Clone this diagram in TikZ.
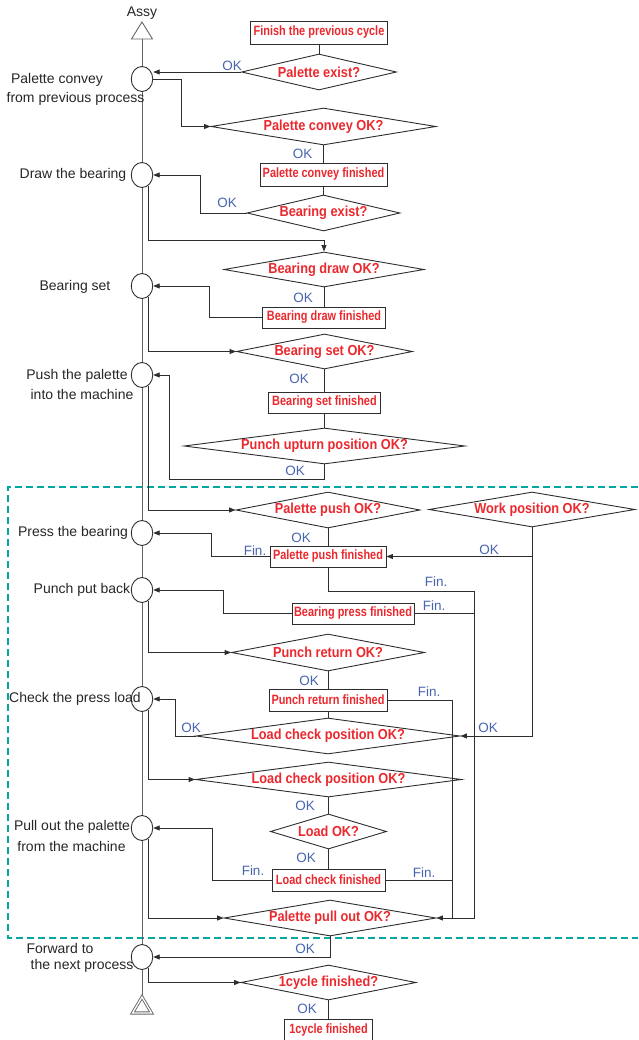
\documentclass[tikz,border=0pt]{standalone}
\usepackage{fontspec}
\setmainfont{Liberation Sans}
\newfontfamily\boxfont[FakeStretch=0.81]{Liberation Sans}
\newfontfamily\decfont[FakeStretch=0.88]{Liberation Sans}
\usepackage{tikz}
\usetikzlibrary{shapes.geometric, arrows.meta, positioning, calc}
\definecolor{qred}{RGB}{235,40,45}
\definecolor{okblue}{RGB}{70,100,175}
\definecolor{zoneteal}{RGB}{0,168,160}
\definecolor{linegray}{RGB}{45,45,45}
\tikzset{
  procbox/.style 2 args={
    rectangle, draw=linegray, line width=0.9pt, inner sep=0pt,
    minimum width=#1pt, minimum height=#2pt,
    font=\boxfont\bfseries\fontsize{13.5}{15}\selectfont, text=qred
  },
  decision/.style 2 args={
    diamond, draw=linegray, line width=0.9pt, inner sep=0pt,
    minimum width=#1pt, minimum height=#2pt,
    /utils/exec={\pgfmathsetmacro\decaspect{#1/#2}}, aspect=\decaspect,
    font=\decfont\bfseries\fontsize{14.5}{16}\selectfont, text=qred
  },
  stepcirc/.style={
    ellipse, draw=linegray, line width=0.9pt, inner sep=0pt,
    minimum width=21.5pt, minimum height=25pt
  },
  steplabel/.style={
    font=\fontsize{14}{16}\selectfont, text=black!85, inner sep=0pt
  },
  oklabel/.style={
    font=\fontsize{13.5}{15}\selectfont, text=okblue, inner sep=0pt
  },
  mainline/.style={line width=0.9pt, draw=black!60},
  flowline/.style={line width=0.9pt, draw=linegray},
  flowarrow/.style={flowline, -{Triangle[length=6.5pt,width=5pt]}},
  zoneline/.style={line width=2pt, draw=zoneteal, dash pattern=on 7pt off 4pt},
}

\begin{document}
\begin{tikzpicture}[x=1pt, y=-1pt]
  \useasboundingbox (0,0) rectangle (638,1040);

  % === Cell zone ===
  \draw[zoneline] (638,487) -- (8,487) -- (8,938) -- (638,938);

  % === Main line ===
  \node[steplabel] (assy) at (142,13) {Assy};
  \draw[mainline] (131.5,39) -- (142,22) -- (152.5,39) -- cycle;
  \coordinate (assyBase) at (142,39);
  \draw[mainline, double, double distance=1.3pt] (132.5,1013) -- (142,997) -- (151.5,1013) -- cycle;
  \coordinate (endApex) at (142,996);

  \node[stepcirc] (c1) at (142,79) {};
  \node[stepcirc] (c2) at (142,175) {};
  \node[stepcirc] (c3) at (142,286) {};
  \node[stepcirc] (c4) at (142,375) {};
  \node[stepcirc] (c5) at (142,533) {};
  \node[stepcirc] (c6) at (142,590) {};
  \node[stepcirc] (c7) at (142,699) {};
  \node[stepcirc] (c8) at (142,828) {};
  \node[stepcirc] (c9) at (142,957) {};

  \draw[mainline] (assyBase) -- (c1.north);
  \foreach \a/\b in {c1/c2, c2/c3, c3/c4, c4/c5, c5/c6, c6/c7, c7/c8, c8/c9}
    \draw[mainline] (\a.south) -- (\b.north);
  \draw[mainline] (c9.south) -- (endApex);

  % === Step labels ===
  \node[steplabel] (l1a) at (57,80) {Palette convey};
  \node[steplabel] (l1b) at (75.5,99) {from previous process};
  \node[steplabel] (l2) at (73,175) {Draw the bearing};
  \node[steplabel] (l3) at (75,287) {Bearing set};
  \node[steplabel] (l4a) at (77,376) {Push the palette};
  \node[steplabel] (l4b) at (82,394) {into the machine};
  \node[steplabel] (l5) at (73,533) {Press the bearing};
  \node[steplabel] (l6) at (82,590) {Punch put back};
  \node[steplabel] (l7) at (75,699) {Check the press load};
  \node[steplabel] (l8a) at (72,827) {Pull out the palette};
  \node[steplabel] (l8b) at (71.5,846) {from the machine};
  \node[steplabel] (l9a) at (60,948) {Forward to};
  \node[steplabel] (l9b) at (82,966) {the next process};

  % === Checks and results ===
  \node[procbox={137}{23}] (bPrev) at (319,32.5) {Finish the previous cycle};
  \node[decision={155}{36}] (dExist) at (319,72) {Palette exist?};
  \node[decision={225}{37}] (dConvey) at (323.5,126.5) {Palette convey OK?};
  \node[procbox={127}{23}] (bConvey) at (323.5,174.5) {Palette convey finished};
  \node[decision={153}{36}] (dBrgExist) at (323.5,213) {Bearing exist?};
  \node[decision={200}{35}] (dDraw) at (324,269.5) {Bearing draw OK?};
  \node[procbox={123}{21}] (bDraw) at (324,317.5) {Bearing draw finished};
  \node[decision={176}{35}] (dSet) at (324.5,351.5) {Bearing set OK?};
  \node[procbox={112}{21}] (bSet) at (324.5,402.5) {Bearing set finished};
  \node[decision={281}{36}] (dUpturn) at (324.5,446) {Punch upturn position OK?};
  \node[decision={184}{36}] (dPush) at (328,510) {Palette push OK?};
  \node[decision={206}{35}] (dWork) at (532,509.5) {Work position OK?};
  \node[procbox={116}{21}] (bPush) at (328,556.5) {Palette push finished};
  \node[procbox={122}{21}] (bPress) at (353,613.5) {Bearing press finished};
  \node[decision={193}{37}] (dReturn) at (328,652.5) {Punch return OK?};
  \node[procbox={118}{22}] (bReturn) at (328,700) {Punch return finished};
  \node[decision={264}{36}] (dLcp1) at (328,736) {Load check position OK?};
  \node[decision={266}{35}] (dLcp2) at (328.5,779.5) {Load check position OK?};
  \node[decision={116}{35}] (dLoad) at (328.5,831.5) {Load OK?};
  \node[procbox={113}{22}] (bLoad) at (328.5,880) {Load check finished};
  \node[decision={212}{36}] (dPull) at (330,918) {Palette pull out OK?};
  \node[decision={175}{35}] (dCycle) at (328.5,982.5) {1cycle finished?};
  \node[procbox={88}{22}] (bCycle) at (328.5,1030) {1cycle finished};

  % === Connectors ===
  \draw[flowline] (bPrev.south) -- (dExist.north);
  \draw[flowarrow] (dExist.west) -- (dExist.west -| c1.east);
  \draw[flowarrow] (c1.east) -- ++(28,0) |- (dConvey.west);
  \draw[flowline] (dConvey.south) -- (bConvey.north);
  \draw[flowline] (bConvey.south) -- (dBrgExist.north);
  \draw[flowarrow] (dBrgExist.west) -| ([xshift=47pt]c2.east) -- (c2.east);
  \draw[flowarrow] (c2.-60) -- ++(0,55) -| (dDraw.north);
  \draw[flowline] (dDraw.south) -- (bDraw.north);
  \draw[flowarrow] (bDraw.west) -| ([xshift=56pt]c3.east) -- (c3.east);
  \draw[flowarrow] (c3.-60) |- (dSet.west);
  \draw[flowline] (dSet.south) -- (bSet.north);
  \draw[flowline] (bSet.south) -- (dUpturn.north);
  \draw[flowarrow] (dUpturn.south) -- ++(0,15) -| ([xshift=16pt]c4.east) -- (c4.east);
  \draw[flowarrow] (c4.-60) |- (dPush.west);
  \draw[flowline] (dPush.south) -- (bPush.north);
  \draw[flowarrow] (bPush.west) -| ([xshift=58pt]c5.east) -- (c5.east);
  \draw[flowarrow] (dWork.south) |- (bPush.east);
  \draw[flowarrow] (dWork.south) |- (dLcp1.east);

  % collectors of the finished signals
  \coordinate (busA) at (452,918);
  \coordinate (busB) at (474,918);
  \coordinate (busBtop) at (474,591);
  \draw[flowline] (bPush.south) |- (busBtop) -- (busB) -- (busA);
  \draw[flowline] (bPress.east) -- (bPress.east -| busB);
  \draw[flowarrow] (bReturn.east) -| (busA) -- (dPull.east);
  \draw[flowline] (bLoad.east) -- (bLoad.east -| busA);

  \draw[flowarrow] (bPress.west) -| ([xshift=70pt]c6.east) -- (c6.east);
  \draw[flowarrow] (c6.-60) |- (dReturn.west);
  \draw[flowline] (dReturn.south) -- (bReturn.north);
  \draw[flowline] (bReturn.south) -- (dLcp1.north);
  \draw[flowarrow] (dLcp1.west) -| ([xshift=22pt]c7.east) -- (c7.east);
  \draw[flowarrow] (c7.-60) |- (dLcp2.west);
  \draw[flowline] (dLcp2.south) -- (dLoad.north);
  \draw[flowline] (dLoad.south) -- (bLoad.north);
  \draw[flowarrow] (bLoad.west) -| ([xshift=59pt]c8.east) -- (c8.east);
  \draw[flowarrow] (c8.-60) |- (dPull.west);
  \draw[flowarrow] (dPull.south) |- (c9.east);
  \draw[flowarrow] (c9.-60) |- (dCycle.west);
  \draw[flowline] (dCycle.south) -- (bCycle.north);

  % === Signal labels ===
  \node[oklabel] (ok1) at (232,66) {OK};
  \node[oklabel] (ok2) at (302.5,154) {OK};
  \node[oklabel] (ok3) at (227,203) {OK};
  \node[oklabel] (ok4) at (303,298) {OK};
  \node[oklabel] (ok5) at (299,379) {OK};
  \node[oklabel] (ok6) at (295,471) {OK};
  \node[oklabel] (ok7) at (301,538) {OK};
  \node[oklabel] (ok8) at (489,550) {OK};
  \node[oklabel] (ok9) at (309,681) {OK};
  \node[oklabel] (ok10) at (191,728) {OK};
  \node[oklabel] (ok11) at (488,728) {OK};
  \node[oklabel] (ok12) at (305,806) {OK};
  \node[oklabel] (ok13) at (306,858) {OK};
  \node[oklabel] (ok14) at (305,949) {OK};
  \node[oklabel] (ok15) at (307,1009) {OK};
  \node[oklabel] (fin1) at (255,551) {Fin.};
  \node[oklabel] (fin2) at (436,582) {Fin.};
  \node[oklabel] (fin3) at (434,606) {Fin.};
  \node[oklabel] (fin4) at (429,692) {Fin.};
  \node[oklabel] (fin5) at (253,871) {Fin.};
  \node[oklabel] (fin6) at (424,873) {Fin.};
\end{tikzpicture}
\end{document}
